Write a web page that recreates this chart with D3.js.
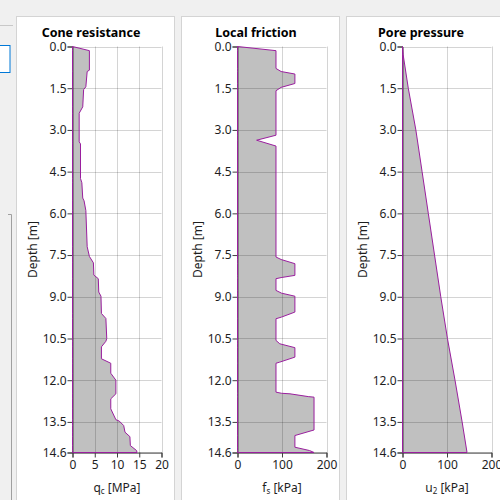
<!DOCTYPE html>
<html>
<head>
<meta charset="utf-8">
<script src="https://cdn.jsdelivr.net/npm/d3@7"></script>
<style>
  body { margin: 0; background: #f0f0f0; }
  svg { display: block; font-family: "Noto Sans", "Open Sans", sans-serif; }
</style>
</head>
<body>
<svg width="500" height="500"></svg>
<script>
const svg = d3.select("svg");
const width = +svg.attr("width");
const height = +svg.attr("height");

// depth axis ticks (m)
const depthTicks = [0, 1.5, 3, 4.5, 6, 7.5, 9, 10.5, 12, 13.5, 14.6];
const maxDepth = 14.6;

// cone resistance qc (MPa)
const qcDepth = [0, 0.15, 0.85, 0.9, 1.45, 1.55, 2.17, 2.4, 3.43, 3.5, 4.75, 4.9, 5.45, 5.55, 5.9, 7.2, 7.55, 7.78, 8.22, 8.35, 8.83, 8.98, 9.6, 9.78, 10.5, 10.6, 10.8, 11.23, 11.39, 11.75, 12.0, 12.49, 12.67, 13.03, 13.42, 13.47, 13.63, 13.87, 14.03, 14.35, 14.53, 14.6];
const qcValues = [0, 3.8, 3.8, 3.3, 3.0, 2.5, 2.3, 1.5, 1.5, 1.8, 1.8, 2.1, 2.3, 2.6, 3.0, 3.3, 3.8, 4.7, 4.8, 5.8, 5.9, 6.4, 6.5, 7.5, 7.7, 7.5, 6.5, 6.5, 8.6, 8.6, 9.75, 9.75, 8.6, 8.6, 9.75, 10.5, 11.5, 11.8, 12.9, 13.0, 14.4, 14.5];

// local friction fs (kPa)
const fsDepth = [0, 0.15, 0.79, 0.9, 0.99, 1.33, 1.47, 1.59, 3.19, 3.37, 3.58, 7.57, 7.66, 7.81, 8.23, 8.31, 8.35, 8.77, 8.87, 8.98, 9.55, 9.73, 9.79, 10.57, 10.69, 10.83, 11.17, 11.35, 11.39, 12.43, 12.47, 12.49, 12.59, 12.61, 13.79, 13.99, 14.41, 14.53, 14.6];
const fsValues = [0, 86.5, 86.5, 98, 129, 129, 98, 86.5, 86.5, 43, 86.5, 86.5, 98, 129, 129, 98, 86.5, 86.5, 99, 129, 129, 99, 86.5, 86.5, 95, 129, 129, 95, 86.5, 86.5, 99, 118, 159, 172, 172, 129, 129, 162, 172];

// pore pressure u2 (kPa)
const u2Depth = [0, 0.3, 1.5, 3, 4.5, 6, 7.5, 9, 10.5, 12, 13.5, 14.6];
const u2Values = [0, 1.5, 13, 30, 44, 58, 72, 86, 101, 118, 134, 145];

const panelTitles = ["Cone resistance", "Local friction", "Pore pressure"];
const xMax = [20, 200, 200];
const xTicks = [[0, 5, 10, 15, 20], [0, 100, 200], [0, 100, 200]];
const xSymbols = ["q", "f", "u"];
const xSubs = ["c", "s", "2"];
const xUnits = [" [MPa]", " [kPa]", " [kPa]"];

const series = [
  qcDepth.map((d, i) => ({ depth: d, value: qcValues[i] })),
  fsDepth.map((d, i) => ({ depth: d, value: fsValues[i] })),
  u2Depth.map((d, i) => ({ depth: d, value: u2Values[i] }))
];

// window chrome on the left
svg.append("line").attr("x1", 0).attr("x2", 13).attr("y1", 25.5).attr("y2", 25.5)
  .attr("stroke", "#c8c8c8");
svg.append("rect").attr("x", -2).attr("y", 45.5).attr("width", 12).attr("height", 27)
  .attr("fill", "#fff").attr("stroke", "#0078d7");
svg.append("path").attr("d", "M8,214.5H11.5V500").attr("fill", "none").attr("stroke", "#a0a0a0");

const y = d3.scaleLinear().domain([0, maxDepth]).range([46.5, 452.5]);

series.forEach((data, i) => {
  const off = 165 * i;
  const g = svg.append("g");

  g.append("rect")
    .attr("x", 16.5 + off).attr("y", 16.5)
    .attr("width", 158).attr("height", 500)
    .attr("fill", "#fff").attr("stroke", "#d4d4d4");

  const x = d3.scaleLinear().domain([0, xMax[i]]).range([72.5 + off, 161.5 + off]);

  // filled profile
  const area = d3.area()
    .x0(x(0))
    .x1(d => x(d.value))
    .y(d => y(d.depth));

  g.append("path")
    .datum(data)
    .attr("d", area)
    .attr("fill", "#c0c0c0");

  // grid on top of fill
  g.append("g").selectAll("line")
    .data(depthTicks)
    .join("line")
    .attr("x1", x(0)).attr("x2", x(xMax[i]))
    .attr("y1", d => Math.round(y(d)) + 0.5).attr("y2", d => Math.round(y(d)) + 0.5)
    .attr("stroke", "rgba(0,0,0,0.17)");
  g.append("g").selectAll("line")
    .data(xTicks[i].slice(1))
    .join("line")
    .attr("x1", d => Math.round(x(d)) + 0.5).attr("x2", d => Math.round(x(d)) + 0.5)
    .attr("y1", y(0)).attr("y2", y(maxDepth))
    .attr("stroke", "rgba(0,0,0,0.17)");

  // axes
  const yAxis = g.append("g")
    .attr("transform", `translate(${x(0)},0)`)
    .call(d3.axisLeft(y).tickValues(depthTicks).tickFormat(d3.format(".1f")).tickSizeOuter(0).tickSize(5));
  const xAxis = g.append("g")
    .attr("transform", `translate(0,${y(maxDepth)})`)
    .call(d3.axisBottom(x).tickValues(xTicks[i]).tickSizeOuter(0).tickSize(5));
  [yAxis, xAxis].forEach(a => {
    a.select(".domain").attr("stroke", "#404040");
    a.selectAll(".tick line").attr("stroke", "#404040");
    a.selectAll(".tick text").attr("fill", "#1e1e1e").style("font-size", "12px")
      .style("font-family", "'Noto Sans', sans-serif");
  });
  yAxis.selectAll(".tick text").attr("x", -6);
  xAxis.selectAll(".tick text").attr("y", 8);

  // outline
  g.append("path")
    .datum(data)
    .attr("d", area)
    .attr("fill", "none")
    .attr("stroke", "#9a1f9e")
    .attr("stroke-width", 1);

  // title
  g.append("text")
    .attr("x", 91 + off).attr("y", 37)
    .attr("text-anchor", "middle")
    .style("font-size", "12.5px").style("font-weight", "bold")
    .attr("fill", "#000")
    .text(panelTitles[i]);

  // y label
  g.append("text")
    .attr("transform", `translate(${37 + off},${(y(0) + y(maxDepth)) / 2}) rotate(-90)`)
    .attr("text-anchor", "middle")
    .style("font-size", "12px").attr("fill", "#1e1e1e")
    .text("Depth [m]");

  // x label with subscript
  const xl = g.append("text")
    .attr("x", (x(0) + x(xMax[i])) / 2).attr("y", 492)
    .attr("text-anchor", "middle")
    .style("font-size", "12px").attr("fill", "#1e1e1e");
  xl.append("tspan").text(xSymbols[i]);
  xl.append("tspan").attr("dy", 2).style("font-size", "8px").text(xSubs[i]);
  xl.append("tspan").attr("dy", -2).text(xUnits[i]);
});
</script>
</body>
</html>
